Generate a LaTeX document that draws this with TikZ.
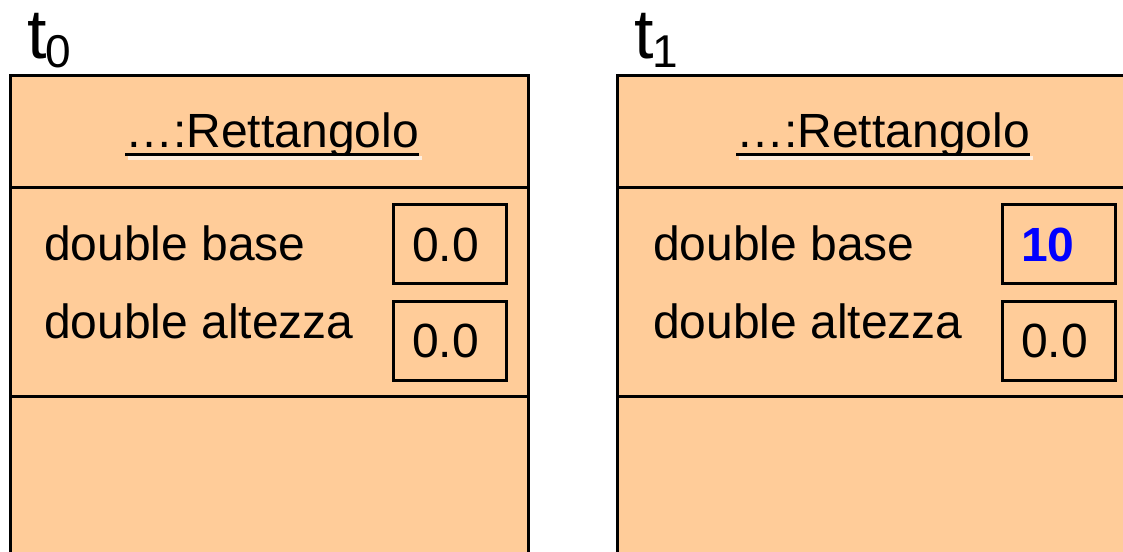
\documentclass[tikz,border=0pt]{standalone}
\usepackage{fontspec}
\setmainfont{Liberation Sans}
\definecolor{peach}{RGB}{255,204,153}
\definecolor{glow}{RGB}{255,238,222}
\definecolor{valblue}{RGB}{0,0,255}
\begin{document}
\begin{tikzpicture}[x=1pt,y=-1pt,
  compart/.style={draw=black, line width=3pt, fill=peach, inner sep=0pt, minimum width=518pt, anchor=north west},
  txt/.style={font=\fontsize{48}{48}\selectfont, inner sep=0pt, anchor=base west},
  titletxt/.style={font=\fontsize{48}{48}\selectfont, inner sep=0pt, anchor=base},
  valbox/.style={draw=black, line width=2.5pt, inner sep=0pt, minimum width=113pt, minimum height=79pt, anchor=north west},
  timelbl/.style={font=\fontsize{70}{70}\selectfont, inner sep=0pt, anchor=base west},
  sublbl/.style={font=\fontsize{46}{46}\selectfont, inner sep=0pt, anchor=base west},
  uline/.style={line width=3pt},
  ulglow/.style={glow, line width=4pt}
]
\useasboundingbox (0,0) rectangle (1123,551);
\clip (0,0) rectangle (1123,551);
\fill[white] (0,0) rectangle (1123,551);

% ---------- left object (t0) ----------
\node[timelbl] (tA) at (27,59) {t};
\node[sublbl] (sA) at (45,67) {0};

\node[compart, minimum height=112pt] (headA) at (9,74) {};
\node[compart, minimum height=209pt] (attrA) at (9,186) {};
\node[compart, minimum height=220pt] (opsA) at (9,395) {};

\node[titletxt] (titleA) at (272,147) {…:Rettangolo};
\draw[ulglow] ([xshift=3pt,yshift=-11pt]titleA.base west) -- ([xshift=3pt,yshift=-11pt]titleA.base east);
\draw[uline] ([yshift=-7pt]titleA.base west) -- ([yshift=-7pt]titleA.base east);

\node[txt] (baseA) at (44,260) {double base};
\node[txt] (altA) at (44,338) {double altezza};
\node[valbox] (vbA) at (392,203) {};
\node[valbox] (vaA) at (392,300) {};
\node[txt] (vbAt) at ([xshift=20pt,yshift=-58pt]vbA.north west) {0.0};
\node[txt] (vaAt) at ([xshift=20pt,yshift=-57pt]vaA.north west) {0.0};

% ---------- right object (t1) ----------
\node[timelbl] (tB) at (634,59) {t};
\node[sublbl] (sB) at (652,67) {1};

\node[compart, minimum height=112pt] (headB) at (616,74) {};
\node[compart, minimum height=209pt] (attrB) at (616,186) {};
\node[compart, minimum height=220pt] (opsB) at (616,395) {};

\node[titletxt] (titleB) at (883,147) {…:Rettangolo};
\draw[ulglow] ([xshift=3pt,yshift=-11pt]titleB.base west) -- ([xshift=3pt,yshift=-11pt]titleB.base east);
\draw[uline] ([yshift=-7pt]titleB.base west) -- ([yshift=-7pt]titleB.base east);

\node[txt] (baseB) at (653,260) {double base};
\node[txt] (altB) at (653,338) {double altezza};
\node[valbox] (vbB) at (1001,203) {};
\node[valbox] (vaB) at (1001,300) {};
\node[txt, text=valblue, font=\fontsize{48}{48}\selectfont\bfseries] (vbBt) at ([xshift=20pt,yshift=-58pt]vbB.north west) {10};
\node[txt] (vaBt) at ([xshift=20pt,yshift=-57pt]vaB.north west) {0.0};
\end{tikzpicture}
\end{document}
